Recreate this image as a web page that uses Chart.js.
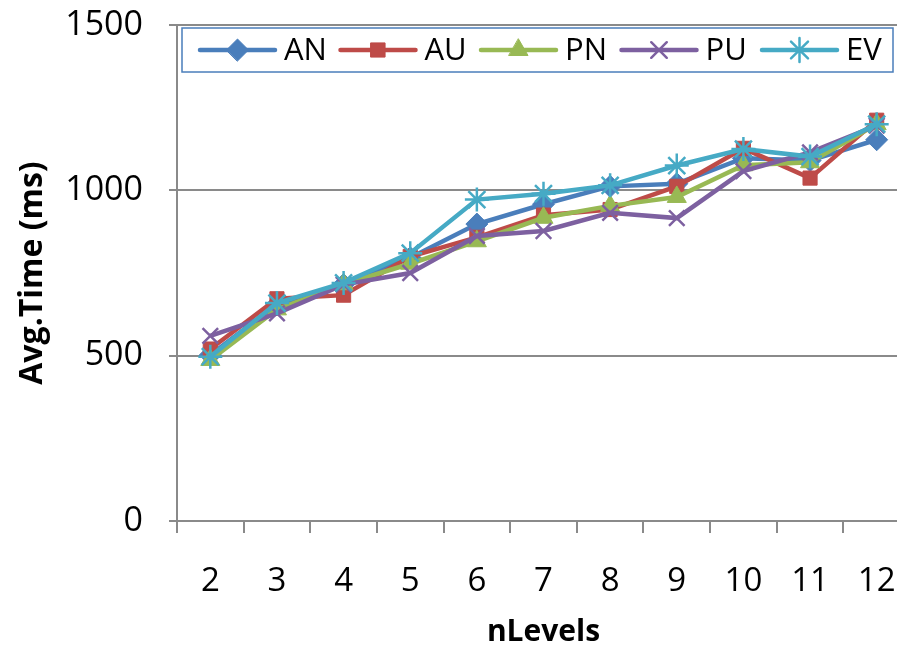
<!DOCTYPE html>
<html>
<head>
<meta charset="utf-8">
<script src="https://cdn.jsdelivr.net/npm/chart.js@4.4.1/dist/chart.umd.min.js"></script>
<style>
  html, body { margin: 0; padding: 0; background: #fff; overflow: hidden; }
  #wrap { width: 930px; height: 647px; }
</style>
</head>
<body>
<div id="wrap"><canvas id="chart" width="930" height="647"></canvas></div>
<script>
const levels = ['2', '3', '4', '5', '6', '7', '8', '9', '10', '11', '12'];
const seriesNames = ['AN', 'AU', 'PN', 'PU', 'EV'];

const anTimes = [502, 655, 715, 796, 898, 958, 1012, 1020, 1097, 1090, 1153];
const auTimes = [520, 672, 683, 800, 858, 925, 942, 1012, 1127, 1037, 1212];
const pnTimes = [487, 640, 716, 778, 846, 917, 953, 980, 1076, 1085, 1200];
const puTimes = [560, 628, 715, 750, 862, 877, 932, 916, 1058, 1115, 1196];
const evTimes = [497, 659, 720, 810, 972, 990, 1015, 1075, 1125, 1102, 1200];

const yTicks = [0, 500, 1000, 1500];

const FONT = '"Open Sans", "DejaVu Sans", sans-serif';
const GRID = '#8a8a8a';

const styles = {
  AN: { color: '#4a7ebb', pointStyle: 'rectRot', radius: 11, borderWidth: 1 },
  AU: { color: '#be4b48', pointStyle: 'rect', radius: 10, borderWidth: 1 },
  PN: { color: '#98b954', pointStyle: 'triangle', radius: 11, borderWidth: 1 },
  PU: { color: '#7d60a0', pointStyle: 'crossRot', radius: 11, borderWidth: 2.5 },
  EV: { color: '#46aac5', pointStyle: 'star', radius: 12, borderWidth: 2.5 },
};

const values = [anTimes, auTimes, pnTimes, puTimes, evTimes];

function makeDataset(name, i) {
  const s = styles[name];
  return {
    label: name,
    data: values[i],
    borderColor: s.color,
    backgroundColor: s.color,
    borderWidth: 4.5,
    pointStyle: s.pointStyle,
    pointRadius: s.radius,
    pointBackgroundColor: s.color,
    pointBorderColor: s.color,
    pointBorderWidth: s.borderWidth,
    tension: 0,
    order: seriesNames.length - i, // last series ends up on top
  };
}

// boxed legend with a line + marker per series, drawn inside the plot
const boxLegend = {
  id: 'boxLegend',
  afterDraw(chart) {
    const ctx = chart.ctx;
    const area = chart.chartArea;
    const left = area.left + 5, top = area.top + 3;
    const w = 711, h = 44;
    const cy = top + h / 2;
    ctx.save();
    ctx.fillStyle = '#fff';
    ctx.fillRect(left, top, w, h);
    ctx.strokeStyle = '#4a7ebb';
    ctx.lineWidth = 1.5;
    ctx.strokeRect(left, top, w, h);
    ctx.font = '31px ' + FONT;
    ctx.textBaseline = 'middle';
    ctx.fillStyle = '#000';
    seriesNames.forEach((name, i) => {
      const s = styles[name];
      const x0 = left + 18 + i * 140.5;
      ctx.strokeStyle = s.color;
      ctx.lineWidth = 4.5;
      ctx.lineCap = 'round';
      ctx.beginPath();
      ctx.moveTo(x0, cy);
      ctx.lineTo(x0 + 75, cy);
      ctx.stroke();
      ctx.fillStyle = s.color;
      ctx.strokeStyle = s.color;
      ctx.lineWidth = s.borderWidth;
      Chart.helpers.drawPoint(ctx, {
        pointStyle: s.pointStyle, radius: s.radius, borderWidth: s.borderWidth, rotation: 0,
      }, x0 + 37.5, cy);
      ctx.fillStyle = '#000';
      ctx.fillText(name, x0 + 84, cy + 1);
    });
    ctx.restore();
  },
};

new Chart(document.getElementById('chart'), {
  type: 'line',
  data: {
    labels: levels,
    datasets: seriesNames.map(makeDataset),
  },
  options: {
    responsive: false,
    animation: false,
    layout: { padding: { top: 25, right: 20, left: 0, bottom: 0 } },
    plugins: {
      legend: { display: false },
      tooltip: { enabled: false },
    },
    scales: {
      x: {
        offset: true,
        grid: {
          offset: true,
          drawOnChartArea: false,
          color: GRID,
          lineWidth: 2,
          tickLength: 12,
        },
        border: { color: GRID, width: 2 },
        ticks: {
          color: '#000',
          font: { family: FONT, size: 33 },
          padding: 29,
          maxRotation: 0,
        },
        title: {
          display: true,
          text: 'nLevels',
          color: '#000',
          font: { family: FONT, size: 30, weight: 'bold' },
          padding: { top: 0, bottom: -3 },
        },
        afterFit(scale) { scale.height = 126; },
      },
      y: {
        min: 0,
        max: 1500,
        afterBuildTicks(scale) { scale.ticks = yTicks.map(v => ({ value: v })); },
        grid: {
          color: GRID,
          lineWidth: 2,
          tickLength: 8,
        },
        border: { color: GRID, width: 2 },
        ticks: {
          color: '#000',
          font: { family: FONT, size: 34 },
          padding: 26,
          callback: (v) => String(v),
        },
        title: {
          display: true,
          text: 'Avg.Time (ms)',
          color: '#000',
          font: { family: FONT, size: 32, weight: 'bold' },
          padding: { top: 14, bottom: 10 },
        },
        afterFit(scale) {
          scale.width = 177;
          scale.paddingTop = 0;
          scale.paddingBottom = 0;
        },
      },
    },
  },
  plugins: [boxLegend],
});
</script>
</body>
</html>
